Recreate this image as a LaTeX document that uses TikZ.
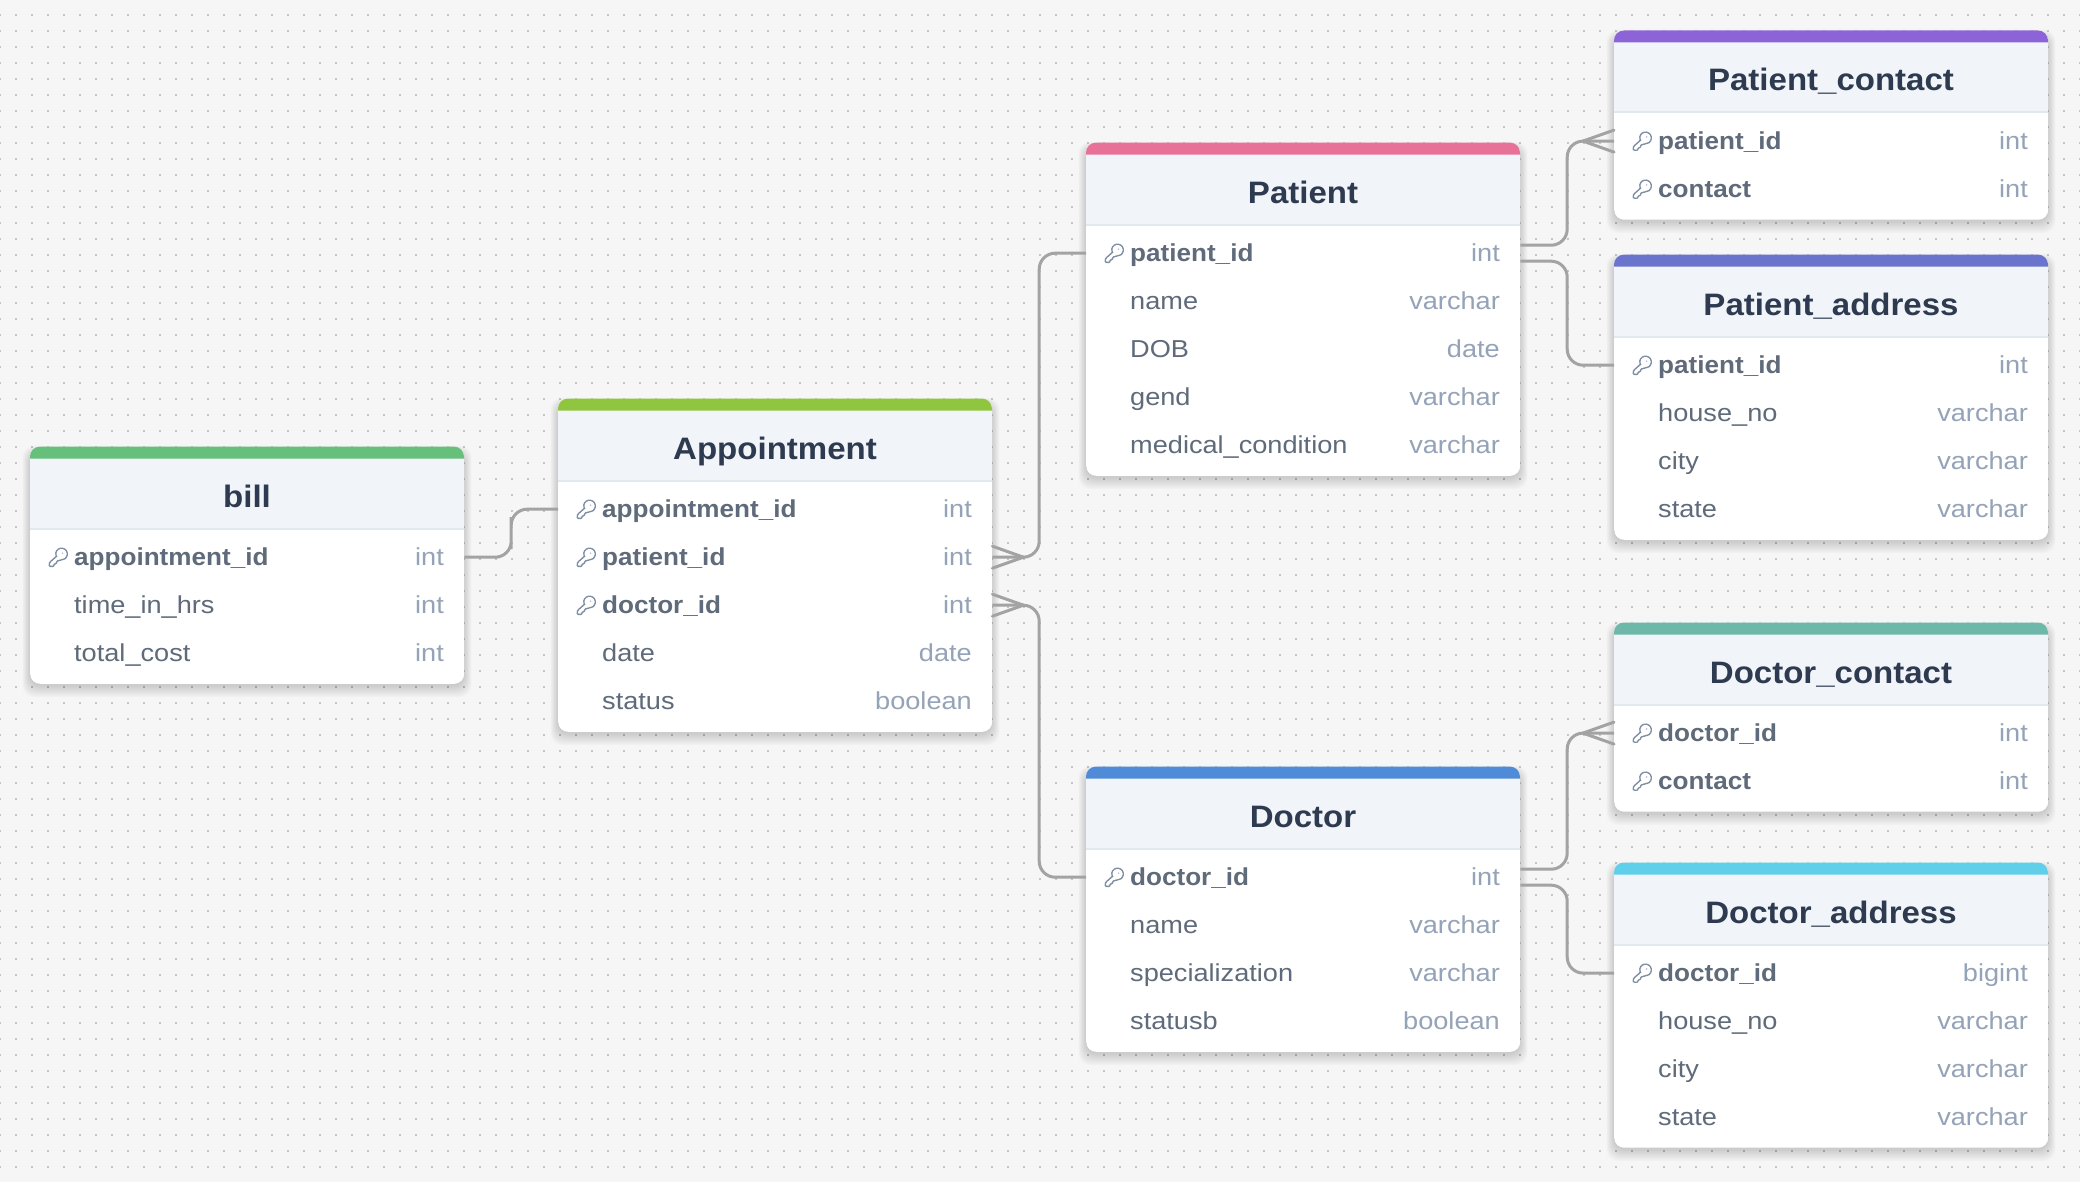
\documentclass[tikz,border=0pt]{standalone}
\usepackage{fontspec}
\setmainfont{Liberation Sans}[FakeStretch=1.108,BoldFeatures={FakeStretch=1.065}]
\usetikzlibrary{calc}
\definecolor{bgc}{HTML}{F6F6F6}
\definecolor{dotc}{HTML}{C6C6C6}
\definecolor{headc}{HTML}{F1F5F9}
\definecolor{headl}{HTML}{E2E8F0}
\definecolor{titlec}{HTML}{2D3A4F}
\definecolor{namec}{HTML}{5F6B7A}
\definecolor{typec}{HTML}{94A3B8}
\definecolor{keyc}{HTML}{7F8EA3}
\definecolor{linkc}{HTML}{A3A3A3}
\definecolor{cBill}{HTML}{66BF7B}
\definecolor{cAppt}{HTML}{90C53F}
\definecolor{cPat}{HTML}{E8719A}
\definecolor{cPc}{HTML}{8D63D8}
\definecolor{cPa}{HTML}{6A74CD}
\definecolor{cDc}{HTML}{6DB8A8}
\definecolor{cDoc}{HTML}{4F8BD6}
\definecolor{cDa}{HTML}{5FCFEA}
\tikzset{
  x=1pt,y=-1pt,
  cardbody/.style={anchor=north west,fill=white,rounded corners=10pt,inner sep=0pt,minimum width=434pt},
  rowbox/.style={anchor=west,inner sep=0pt,minimum width=434pt,minimum height=48pt},
  titletext/.style={anchor=base,inner sep=0pt,text=titlec,font=\fontsize{31}{34}\selectfont\bfseries},
  nametext/.style={anchor=base west,inner sep=0pt,text=namec,font=\fontsize{24.5}{28}\selectfont},
  keyname/.style={nametext,font=\fontsize{24.5}{28}\selectfont\bfseries},
  typetext/.style={anchor=base east,inner sep=0pt,text=typec,font=\fontsize{24.5}{28}\selectfont},
  link/.style={draw=linkc,line width=3pt,rounded corners=16pt},
  foot/.style={draw=linkc,line width=3pt,line cap=round},
  keyicon/.pic={
    \begin{scope}[scale=.92,shift={(-12,-12)},draw=keyc,line width=1.35pt,line join=round]
      \draw[rounded corners=1pt] (10.4,10.6) -- (2.6,17.4) -- (2,18.8) -- (2,22) -- (7,22) -- (7,19.4) -- (10,19) -- (10,16) -- (13,15.9) -- (14.2,14.7)
        arc[start angle=100,end angle=-202,radius=6.3];
      \fill[keyc] (16.5,7.5) circle (.7);
    \end{scope}
  }
}
% id, left, top, title, colour, number of rows, rows
\newcommand{\dbcard}[7]{%
  \begin{scope}[shift={(#2,#3)}]
    \foreach \sh in {1,2,...,14}
      \fill[black,opacity=.01,rounded corners=12pt] (-\sh*.55,6-\sh*.5) rectangle (434+\sh*.55,93+48*#6+2+\sh*.85);
    \node[cardbody,minimum height={(93+48*#6)*1pt}] (#1) at (0,0) {};
    \fill[headc] (0,10) rectangle (434,82);
    \fill[headl] (0,81) rectangle (434,83);
    \path[fill=#5] (0,12) [rounded corners=10pt] -- (0,0) -- (434,0) [sharp corners] -- (434,12) -- cycle;
    \node[titletext] (#1-title) at (217,60.5) {#4};
    \foreach \rk/\rn/\rt [count=\ri] in {#7} {
      \node[rowbox] (#1-r\ri) at (0,110.6+48*\ri-48) {};
      \ifnum\rk=1
        \node[keyname] (#1-n\ri) at (44,119.1+48*\ri-48) {\rn};
        \pic at (28.5,110.6+48*\ri-48) {keyicon};
      \else
        \node[nametext] (#1-n\ri) at (44,119.1+48*\ri-48) {\rn};
      \fi
      \node[typetext] (#1-t\ri) at (414,119.1+48*\ri-48) {\rt};
    }
  \end{scope}%
}
\begin{document}
\begin{tikzpicture}
  \useasboundingbox[fill=bgc] (0,0) rectangle (2080,1182);
  \foreach \dy in {15,31,...,1167}
    \draw[dotc,line width=1.6pt,dash pattern=on 1.6pt off 14.4pt,dash phase=.8pt] (0,\dy) -- (2080,\dy);

  \dbcard{bill}{30}{446.6}{bill}{cBill}{3}{1/appointment\_id/int,0/time\_in\_hrs/int,0/total\_cost/int}
  \dbcard{appt}{558}{398.6}{Appointment}{cAppt}{5}{1/appointment\_id/int,1/patient\_id/int,1/doctor\_id/int,0/date/date,0/status/boolean}
  \dbcard{pat}{1086}{142.6}{Patient}{cPat}{5}{1/patient\_id/int,0/name/varchar,0/DOB/date,0/gend/varchar,0/medical\_condition/varchar}
  \dbcard{doc}{1086}{766.6}{Doctor}{cDoc}{4}{1/doctor\_id/int,0/name/varchar,0/specialization/varchar,0/statusb/boolean}
  \dbcard{pc}{1614}{30.5}{Patient\_contact}{cPc}{2}{1/patient\_id/int,1/contact/int}
  \dbcard{pa}{1614}{254.6}{Patient\_address}{cPa}{4}{1/patient\_id/int,0/house\_no/varchar,0/city/varchar,0/state/varchar}
  \dbcard{dc}{1614}{622.5}{Doctor\_contact}{cDc}{2}{1/doctor\_id/int,1/contact/int}
  \dbcard{da}{1614}{862.5}{Doctor\_address}{cDa}{4}{1/doctor\_id/bigint,0/house\_no/varchar,0/city/varchar,0/state/varchar}

  % connectors
  \draw[link] (bill-r1.east) -| ($(bill-r1.east)!.5!(appt-r1.west)$) |- (appt-r1.west);
  \draw[link] (appt-r2.east) -| ($(appt-r2.east)!.5!(pat-r1.west)$) |- (pat-r1.west);
  \draw[link] (appt-r3.east) -| ($(appt-r3.east)!.5!(doc-r1.west)$) |- (doc-r1.west);
  \draw[link] ($(pat-r1.east)+(0,-8)$) -| ($(pat-r1.east)!.5!(pc-r1.west)$) |- (pc-r1.west);
  \draw[link] ($(pat-r1.east)+(0,8)$) -| ($(pat-r1.east)!.5!(pa-r1.west)$) |- (pa-r1.west);
  \draw[link] ($(doc-r1.east)+(0,-8)$) -| ($(doc-r1.east)!.5!(dc-r1.west)$) |- (dc-r1.west);
  \draw[link] ($(doc-r1.east)+(0,8)$) -| ($(doc-r1.east)!.5!(da-r1.west)$) |- (da-r1.west);
  % crow's feet
  \draw[foot] ($(appt-r2.east)+(0,-11)$) -- ($(appt-r2.east)+(31,0)$) -- ($(appt-r2.east)+(0,11)$);
  \draw[foot] ($(appt-r3.east)+(0,-11)$) -- ($(appt-r3.east)+(31,0)$) -- ($(appt-r3.east)+(0,11)$);
  \draw[foot] ($(pc-r1.west)+(0,-11)$) -- ($(pc-r1.west)+(-31,0)$) -- ($(pc-r1.west)+(0,11)$);
  \draw[foot] ($(dc-r1.west)+(0,-11)$) -- ($(dc-r1.west)+(-31,0)$) -- ($(dc-r1.west)+(0,11)$);
\end{tikzpicture}
\end{document}
